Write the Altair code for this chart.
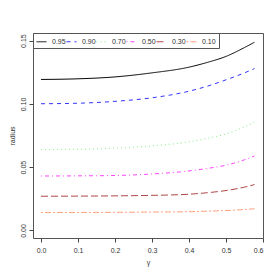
import altair as alt
import pandas as pd

gamma = [0.0, 0.1, 0.2, 0.3, 0.4, 0.45, 0.5, 0.55, 0.577]
levels = ["0.95", "0.90", "0.70", "0.50", "0.30", "0.10"]
r95 = [0.1193, 0.1198, 0.1213, 0.1245, 0.1290, 0.1328, 0.1375, 0.1445, 0.1487]
r90 = [0.1001, 0.1005, 0.1020, 0.1048, 0.1100, 0.1140, 0.1190, 0.1245, 0.1279]
r70 = [0.0639, 0.0641, 0.0650, 0.0668, 0.0700, 0.0728, 0.0762, 0.0818, 0.0855]
r50 = [0.0430, 0.0431, 0.0434, 0.0446, 0.0470, 0.0490, 0.0515, 0.0558, 0.0588]
r30 = [0.0270, 0.0271, 0.0273, 0.0277, 0.0286, 0.0298, 0.0315, 0.0342, 0.0362]
r10 = [0.0142, 0.0142, 0.0143, 0.0145, 0.0148, 0.0152, 0.0157, 0.0165, 0.0171]
colors = ["#000000", "#3333ff", "#88ee88", "#ff44ff", "#b04848", "#ffa080"]
dashes = [[1, 0], [4, 4], [1, 3], [1, 3, 4, 3], [7, 3], [2, 2, 6, 2]]

series = [r95, r90, r70, r50, r30, r10]
rows = []
for lev, vals in zip(levels, series):
    for g, v in zip(gamma, vals):
        rows.append({"gamma": g, "radius": v, "level": lev})
df = pd.DataFrame(rows)

font = "Liberation Sans"

legend = alt.Legend(title=None, orient="none", legendX=0, legendY=0,
                    direction="horizontal", columns=6,
                    symbolType="stroke", symbolSize=100,
                    symbolStrokeWidth=1, labelOffset=5,
                    labelFont=font, labelFontSize=7, labelColor="#333",
                    columnPadding=-3.3, padding=3,
                    strokeColor="#555", fillColor="white")

chart = alt.Chart(df).mark_line(strokeWidth=1, interpolate="monotone").encode(
    x=alt.X("gamma:Q", title="γ",
            scale=alt.Scale(domain=[-0.0216, 0.6], nice=False, zero=False),
            axis=alt.Axis(values=[0, 0.1, 0.2, 0.3, 0.4, 0.5, 0.6], format=".1f",
                          domain=False, grid=False, tickSize=4, tickColor="#444",
                          labelFontSize=7, labelFont=font, labelColor="#333",
                          labelPadding=4, titleFont=font, titleFontSize=7,
                          titleFontWeight="normal", titleColor="#333", titlePadding=5)),
    y=alt.Y("radius:Q", title="radius",
            scale=alt.Scale(domain=[-0.006, 0.156], nice=False, zero=False),
            axis=alt.Axis(values=[0, 0.05, 0.1, 0.15], format=".2f",
                          domain=False, grid=False, tickSize=4, tickColor="#444",
                          labelFontSize=7, labelFont=font, labelColor="#333",
                          labelAngle=-90, labelAlign="center", labelBaseline="bottom",
                          labelPadding=3, titleFont=font, titleFontSize=7,
                          titleFontWeight="normal", titleColor="#333", titlePadding=4)),
    color=alt.Color("level:N", scale=alt.Scale(domain=levels, range=colors),
                    legend=legend),
    strokeDash=alt.StrokeDash("level:N", scale=alt.Scale(domain=levels, range=dashes),
                              legend=legend),
).properties(
    width=230, height=205,
    autosize=alt.AutoSizeParams(type="none"),
    padding={"left": 25, "top": 25, "right": 9, "bottom": 34},
).configure_view(stroke="#555", strokeWidth=1)

chart.save("out.html", embed_options={"renderer": "svg", "actions": False})
